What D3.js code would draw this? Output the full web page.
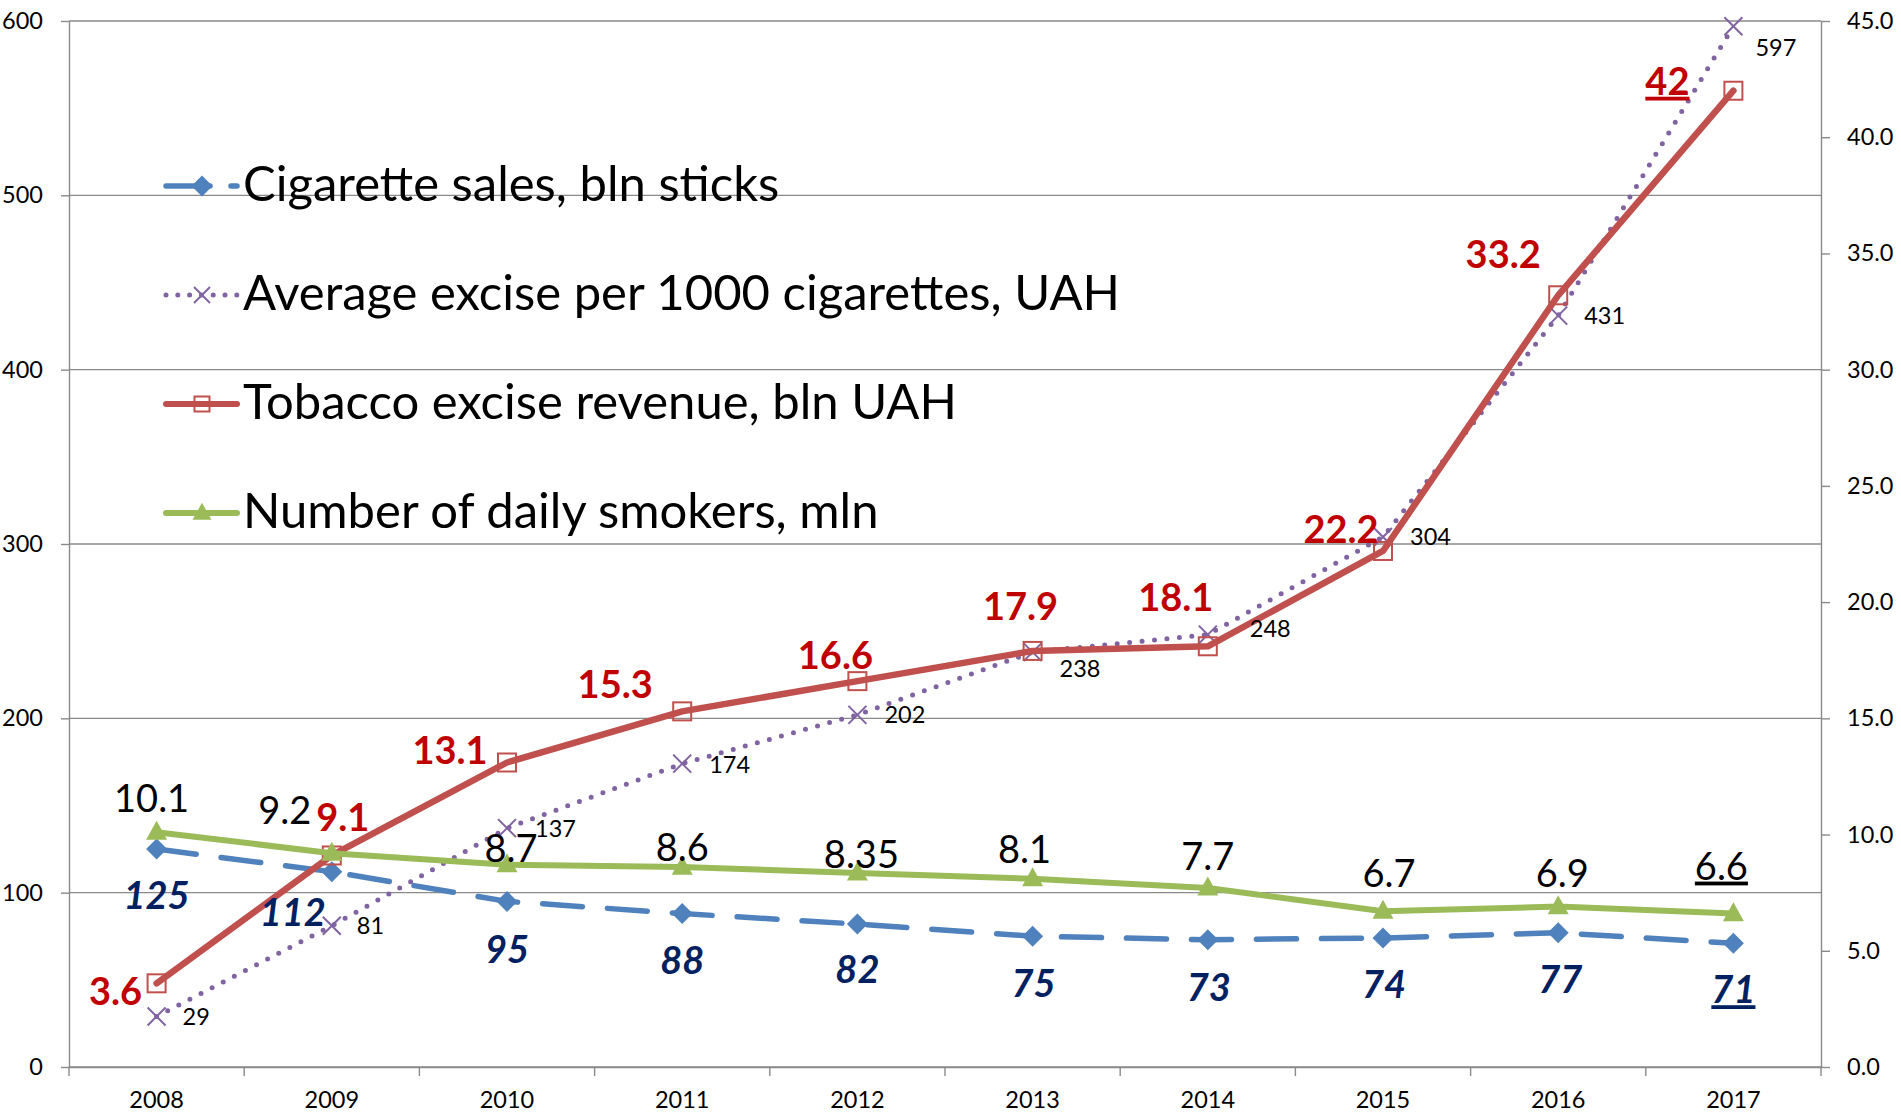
<!DOCTYPE html>
<html>
<head>
<meta charset="utf-8">
<script src="https://cdn.jsdelivr.net/npm/d3@7"></script>
<style>
  html, body { margin: 0; padding: 0; background: #ffffff; }
  svg { display: block; font-family: Lato, "Open Sans", sans-serif; }
</style>
</head>
<body>
<svg id="chart" width="1901" height="1112"></svg>
<script>
// ---------------- DATA ----------------
const years = ["2008","2009","2010","2011","2012","2013","2014","2015","2016","2017"];
const cigaretteSales = [125, 112, 95, 88, 82, 75, 73, 74, 77, 71];          // bln sticks (left axis)
const averageExcise = [29, 81, 137, 174, 202, 238, 248, 304, 431, 597];      // UAH per 1000 (left axis)
const exciseRevenue = [3.6, 9.1, 13.1, 15.3, 16.6, 17.9, 18.1, 22.2, 33.2, 42]; // bln UAH (right axis)
const dailySmokers = [10.1, 9.2, 8.7, 8.6, 8.35, 8.1, 7.7, 6.7, 6.9, 6.6];   // mln (right axis)
const leftTicks = [0, 100, 200, 300, 400, 500, 600];
const rightTicks = [0, 5, 10, 15, 20, 25, 30, 35, 40, 45];
const seriesNames = [
  "Cigarette sales, bln sticks",
  "Average excise per 1000 cigarettes, UAH",
  "Tobacco excise revenue, bln UAH",
  "Number of daily smokers, mln"
];

// label placement offsets (dx, dy of text anchor relative to point)
const salesLabelOffsets   = [[0,60],[-39,54],[0,62],[0,60],[0,59],[1,61],[1,61],[1,60],[2,60],[0,60]];
const exciseLabelOffsets  = [[26,9],[25,8],[28,9],[27,9],[27,8],[27,25],[42,2],[27,8],[26,8],[22,30]];
const revenueLabelOffsets = [[-41,22],[11,-24],[-57,2],[-67,-13],[-22,-12],[-12,-31],[-32,-35],[-42,-8],[-55,-27],[-66,4]];
const smokersLabelOffsets = [[-5,-20],[-47,-29],[4,-3],[0,-6],[4,-5],[-8,-16],[0,-18],[6,-24],[4,-20],[-12,-34]];
const underlined = [false,false,false,false,false,false,false,false,false,true];

// ---------------- LAYOUT ----------------
const svg = d3.select("#chart");
const plot = { left: 69, right: 1821, top: 21, bottom: 1067 };
const x = d3.scaleBand().domain(years).range([plot.left, plot.right]).paddingInner(0).paddingOuter(0);
const xc = d => x(d) + x.bandwidth() / 2;
const yL = d3.scaleLinear().domain([0, 600]).range([plot.bottom, plot.top]);
const yR = d3.scaleLinear().domain([0, 45]).range([plot.bottom, plot.top]);

const gridColor = "#8a8a8a";
const colors = { sales: "#4F81BD", excise: "#8064A2", revenue: "#C0504D", smokers: "#9BBB59" };

// gridlines
svg.append("g").selectAll("line").data(leftTicks).join("line")
  .attr("x1", plot.left).attr("x2", plot.right)
  .attr("y1", d => yL(d)).attr("y2", d => yL(d))
  .attr("stroke", gridColor).attr("stroke-width", 1.4);

// left axis
const gLeft = svg.append("g").attr("transform", `translate(${plot.left},0)`)
  .call(d3.axisLeft(yL).tickValues(leftTicks).tickSizeInner(8).tickSizeOuter(0).tickPadding(18));
// right axis
const gRight = svg.append("g").attr("transform", `translate(${plot.right},0)`)
  .call(d3.axisRight(yR).tickValues(rightTicks).tickFormat(d => d.toFixed(1)).tickSizeInner(9).tickSizeOuter(0).tickPadding(17));
// bottom axis
const gBottom = svg.append("g").attr("transform", `translate(0,${plot.bottom})`)
  .call(d3.axisBottom(x).tickSize(0).tickSizeOuter(0));
gBottom.selectAll(".tick text").attr("y", 41).attr("dy", null);
// category boundary ticks
const boundaries = years.map(d => x(d)).concat([plot.right]);
gBottom.append("g").selectAll("line").data(boundaries).join("line")
  .attr("x1", d => d).attr("x2", d => d).attr("y1", 0).attr("y2", 9)
  .attr("stroke", gridColor).attr("stroke-width", 1.4);

[gLeft, gRight, gBottom].forEach(g => {
  g.selectAll(".domain").attr("stroke", gridColor).attr("stroke-width", 1.4);
  g.selectAll(".tick line").attr("stroke", gridColor).attr("stroke-width", 1.4);
  g.selectAll("text").attr("fill", "#000").style("font-size", "23.5px").style("font-family", "Lato, sans-serif");
});

// ---------------- MARKERS ----------------
function diamond(cx, cy, r) { return `M${cx},${cy-r}L${cx+r},${cy}L${cx},${cy+r}L${cx-r},${cy}Z`; }
function triangle(cx, cy, w, h) { return `M${cx},${cy-h*0.6}L${cx+w/2},${cy+h*0.4}L${cx-w/2},${cy+h*0.4}Z`; }
function cross(cx, cy, r) { return `M${cx-r},${cy-r}L${cx+r},${cy+r}M${cx-r},${cy+r}L${cx+r},${cy-r}`; }

// ---------------- SERIES ----------------
const lineL = d3.line().x((d, i) => xc(years[i])).y(d => yL(d));
const lineR = d3.line().x((d, i) => xc(years[i])).y(d => yR(d));

// cigarette sales (dashed)
svg.append("path").datum(cigaretteSales).attr("d", lineL)
  .attr("fill", "none").attr("stroke", colors.sales).attr("stroke-width", 5.5)
  .attr("stroke-dasharray", "40,25").attr("stroke-linecap", "round");
svg.append("g").selectAll("path").data(cigaretteSales).join("path")
  .attr("d", (d, i) => diamond(xc(years[i]), yL(d), 10.5)).attr("fill", colors.sales);

// average excise (dotted)
svg.append("path").datum(averageExcise).attr("d", lineL)
  .attr("fill", "none").attr("stroke", colors.excise).attr("stroke-width", 5)
  .attr("stroke-dasharray", "0,12.5").attr("stroke-linecap", "round");
svg.append("g").selectAll("path").data(averageExcise).join("path")
  .attr("d", (d, i) => cross(xc(years[i]), yL(d), 9)).attr("fill", "none")
  .attr("stroke", colors.excise).attr("stroke-width", 2);

// excise revenue (solid red)
svg.append("path").datum(exciseRevenue).attr("d", lineR)
  .attr("fill", "none").attr("stroke", colors.revenue).attr("stroke-width", 6.5)
  .attr("stroke-linejoin", "round").attr("stroke-linecap", "round");
svg.append("g").selectAll("rect").data(exciseRevenue).join("rect")
  .attr("x", (d, i) => xc(years[i]) - 9).attr("y", d => yR(d) - 9)
  .attr("width", 18).attr("height", 18).attr("fill", "none")
  .attr("stroke", colors.revenue).attr("stroke-width", 2);

// daily smokers (solid green)
svg.append("path").datum(dailySmokers).attr("d", lineR)
  .attr("fill", "none").attr("stroke", colors.smokers).attr("stroke-width", 6)
  .attr("stroke-linejoin", "round");
svg.append("g").selectAll("path").data(dailySmokers).join("path")
  .attr("d", (d, i) => triangle(xc(years[i]), yR(d), 21, 19)).attr("fill", colors.smokers);

// ---------------- DATA LABELS ----------------
function labels(values, scale, offsets, style) {
  svg.append("g").selectAll("text").data(values).join("text")
    .attr("x", (d, i) => xc(years[i]) + offsets[i][0])
    .attr("y", (d, i) => scale(d) + offsets[i][1])
    .attr("text-anchor", style.anchor)
    .attr("fill", style.color)
    .style("font-size", style.size + "px")
    .style("font-weight", style.weight)
    .style("font-style", style.italic ? "italic" : "normal")
    .style("text-decoration", (d, i) => style.underline && underlined[i] ? "underline" : "none")
    .text(d => String(d));
}
labels(cigaretteSales, yL, salesLabelOffsets, { anchor: "middle", color: "#002060", size: 38, weight: 700, italic: true, underline: true });
labels(averageExcise, yL, exciseLabelOffsets, { anchor: "start", color: "#000", size: 23.5, weight: 400, italic: false, underline: false });
labels(exciseRevenue, yR, revenueLabelOffsets, { anchor: "middle", color: "#C00000", size: 38, weight: 700, italic: false, underline: true });
labels(dailySmokers, yR, smokersLabelOffsets, { anchor: "middle", color: "#000", size: 38, weight: 400, italic: false, underline: true });

// ---------------- LEGEND ----------------
const legendRows = [186, 295, 404, 513];
const legX0 = 166, legX1 = 237, legMid = 202, legText = 243;
const leg = svg.append("g");
seriesNames.forEach((name, k) => {
  const y = legendRows[k];
  const line = leg.append("line").attr("x1", legX0).attr("x2", legX1).attr("y1", y).attr("y2", y);
  if (k === 0) {
    line.attr("stroke", colors.sales).attr("stroke-width", 5.5).attr("stroke-dasharray", "44,21").attr("stroke-linecap", "round");
    leg.append("path").attr("d", diamond(legMid, y, 10.5)).attr("fill", colors.sales);
  } else if (k === 1) {
    line.attr("stroke", colors.excise).attr("stroke-width", 5).attr("stroke-dasharray", "0,11.8").attr("stroke-linecap", "round");
    leg.append("path").attr("d", cross(legMid, y, 8)).attr("stroke", colors.excise).attr("stroke-width", 2).attr("fill", "none");
  } else if (k === 2) {
    line.attr("stroke", colors.revenue).attr("stroke-width", 6).attr("stroke-linecap", "round");
    leg.append("rect").attr("x", legMid - 7.5).attr("y", y - 7.5).attr("width", 15).attr("height", 15)
      .attr("fill", "none").attr("stroke", colors.revenue).attr("stroke-width", 2);
  } else {
    line.attr("stroke", colors.smokers).attr("stroke-width", 6).attr("stroke-linecap", "round");
    leg.append("path").attr("d", triangle(legMid, y, 19, 17)).attr("fill", colors.smokers);
  }
  leg.append("text").attr("x", legText).attr("y", y + 15)
    .attr("fill", "#000").style("font-size", "49px").text(name);
});
</script>
</body>
</html>
